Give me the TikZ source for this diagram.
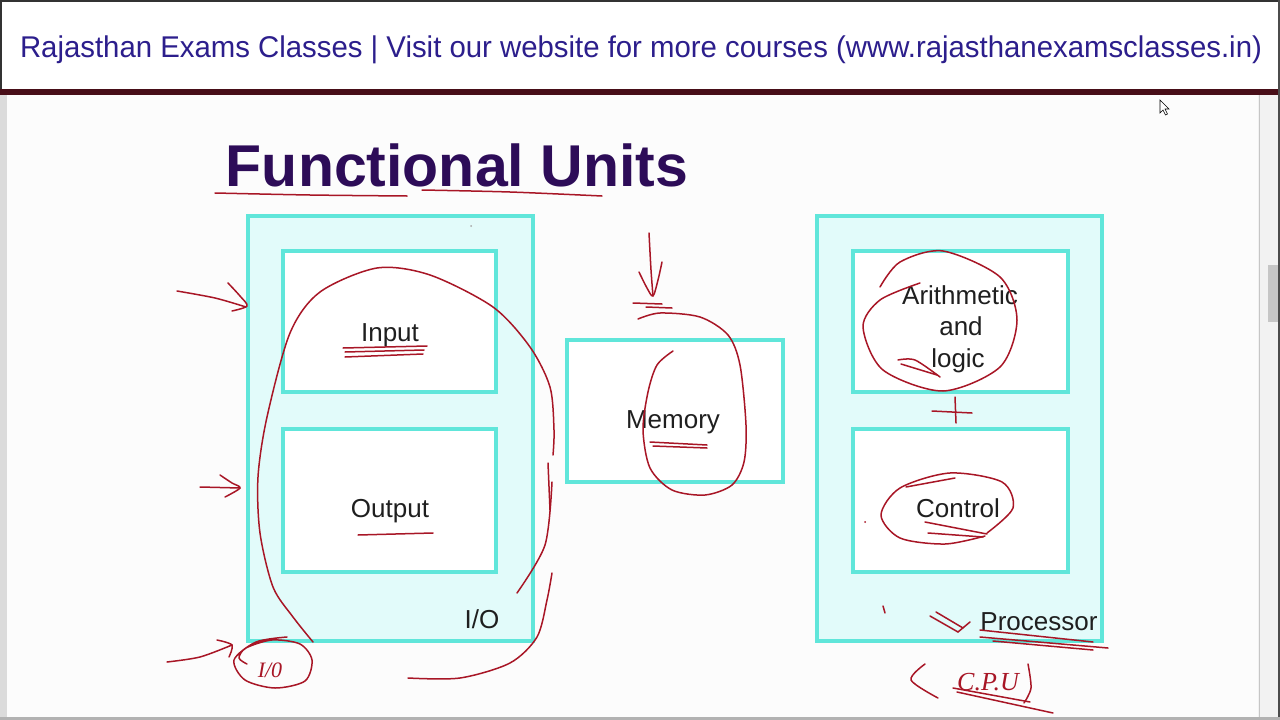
\documentclass[tikz,border=0pt]{standalone}
\usepackage{fontspec}
\setmainfont{Liberation Sans}
\newfontfamily\handfont{Liberation Serif}
\usepackage{graphicx}
\definecolor{hdrblue}{RGB}{44,30,140}
\definecolor{titlepurple}{RGB}{45,12,88}
\definecolor{turq}{RGB}{96,230,218}
\definecolor{cyanfill}{RGB}{226,251,250}
\definecolor{pen}{RGB}{168,22,38}
\definecolor{maroonband}{RGB}{72,14,24}
\tikzset{
  outerbox/.style={draw=turq, line width=4pt, fill=cyanfill, inner sep=0pt},
  innerbox/.style={draw=turq, line width=4pt, fill=white, inner sep=0pt},
  lbl/.style={font=\fontsize{26}{28}\selectfont, text=black!88, inner sep=0pt, anchor=base},
  ink/.style={draw=pen, line width=1.5pt, line cap=round, line join=round},
  handtext/.style={text=pen, inner sep=0pt, font=\handfont\itshape\fontsize{22}{22}\selectfont}
}
\begin{document}
\begin{tikzpicture}[x=1pt,y=-1pt]
\useasboundingbox (0,0) rectangle (1280,720);
% page background
\fill[white!99!black] (0,0) rectangle (1280,720);
% header
\fill[white] (0,0) rectangle (1280,90);
\draw[black!80, line width=1.5pt] (0,0.75) -- (1280,0.75);
\draw[black!80, line width=1.5pt] (0.75,0) -- (0.75,90);
\fill[maroonband] (0,89) rectangle (1280,95);
\node[anchor=base, inner sep=0pt, text=hdrblue] (header) at (641,57)
  {\resizebox{1242pt}{\height}{\fontsize{30}{32}\selectfont Rajasthan Exams Classes | Visit our website for more courses (www.rajasthanexamsclasses.in)}};
% side strips
\fill[gray!28] (0,95) rectangle (7,718);
\fill[gray!10] (1258,95) rectangle (1278,718);
\draw[gray!45, line width=1pt] (1259,95) -- (1259,718);
\fill[gray!45] (1268,265) rectangle (1278,322);
\fill[black!70] (1278,0) rectangle (1280,720);
\fill[gray!60] (0,717) rectangle (1280,720);
% cursor
\draw[black, line width=0.6pt, fill=white] (1160,100) -- (1160,113) -- (1163,110) -- (1165.5,115) -- (1167.5,114) -- (1165,109) -- (1169,109) -- cycle;

% title
\node[anchor=base, inner sep=0pt, text=titlepurple, font=\bfseries\fontsize{59}{60}\selectfont] (title) at (457,186) {Functional Units};

% boxes
\node[outerbox, minimum width=285pt, minimum height=425pt] (io) at (390.5,428.5) {};
\node[innerbox, minimum width=213pt, minimum height=141pt] (inbox) at (389.5,321.5) {};
\node[innerbox, minimum width=213pt, minimum height=143pt] (outbox) at (389.5,500.5) {};
\node[innerbox, minimum width=216pt, minimum height=142pt] (membox) at (675,411) {};
\node[outerbox, minimum width=285pt, minimum height=425pt] (proc) at (959.5,428.5) {};
\node[innerbox, minimum width=215pt, minimum height=141pt] (alubox) at (960.5,321.5) {};
\node[innerbox, minimum width=215pt, minimum height=143pt] (ctrlbox) at (960.5,500.5) {};

% labels
\node[lbl] (inlbl) at (390,341) {Input};
\node[lbl] (outlbl) at (390,517) {Output};
\node[lbl] (iolbl) at (482,628) {I/O};
\node[lbl] (memlbl) at (673,428) {Memory};
\node[lbl] (alu1) at (960,304) {Arithmetic};
\node[lbl] (alu2) at (961,335) {and};
\node[lbl] (alu3) at (958,367) {logic};
\node[lbl] (ctrllbl) at (958,517) {Control};
\node[lbl] (proclbl) at (1039,630) {Processor};

\fill[gray!70] (471,226) circle (1pt);

% ---- handwritten annotations ----
% title underlines
\draw[ink] plot[smooth] coordinates {(215,193) (310,195) (407,196)};
\draw[ink] plot[smooth] coordinates {(422,190) (510,192) (602,196)};
% arrows into I/O
\draw[ink] plot[smooth] coordinates {(177,291) (215,298) (246,307)};
\draw[ink] plot[smooth] coordinates {(228,283) (240,296) (247,306) (232,311)};
\draw[ink] (200,487) -- (240,488);
\draw[ink] plot[smooth] coordinates {(220,475) (232,483) (240,488) (225,497)};
\draw[ink] plot[smooth] coordinates {(167,662) (200,657) (232,645)};
\draw[ink] plot[smooth] coordinates {(217,640) (232,645) (229,657)};
% big loop around I/O
\draw[ink] plot[smooth] coordinates {(313,642) (293,617) (273,587) (260,533) (258,477) (267,417) (290,333) (320,292) (377,268) (430,275) (493,307) (530,347) (550,387) (554,430) (553,455)};
\draw[ink] (548,463) -- (550,510);
\draw[ink] plot[smooth] coordinates {(552,482) (545,545) (517,593)};
\draw[ink] plot[smooth] coordinates {(552,573) (547,600) (537,637) (510,663) (460,678) (408,678)};
% I/o circled
\draw[ink] plot[smooth] coordinates {(287,637) (256,642) (234,660) (245,680) (275,688) (305,681) (312,660) (300,644) (272,640) (246,648) (239,658) (247,664)};
\node[handtext] (iohand) at (270,670) {I/0};
% Input / Output underlines
\draw[ink] (343,348) -- (427,346);
\draw[ink] (345,352) -- (424,350);
\draw[ink] (345,357) -- (423,354);
\draw[ink] (358,535) -- (433,533);
% memory arrow and loop
\draw[ink] plot[smooth] coordinates {(649,233) (651,270) (653,296)};
\draw[ink] plot[smooth] coordinates {(639,272) (647,288) (653,296) (658,280) (662,262)};
\draw[ink] (633,303) -- (662,304);
\draw[ink] (646,307) -- (672,308);
\draw[ink] plot[smooth] coordinates {(638,319) (660,313) (700,317) (728,335) (740,365) (746,425) (744,462) (732,485) (705,495) (672,490) (650,468) (643,430) (648,392) (657,365) (673,351)};
\draw[ink] (650,442) -- (707,445);
\draw[ink] (653,446) -- (707,448);
% ALU circle
\draw[ink] plot[smooth] coordinates {(880,287) (900,262) (943,251) (1000,277) (1017,320) (1000,367) (943,391) (883,370) (863,327) (880,300) (920,283)};
\draw[ink] plot[smooth] coordinates {(898,360) (915,360) (940,377)};
\draw[ink] (901,364) -- (937,375);
% plus
\draw[ink] (955,397) -- (956,423);
\draw[ink] (932,411) -- (972,413);
% Control ellipse
\draw[ink] plot[smooth] coordinates {(987,533) (1013,508) (1002,482) (950,473) (900,488) (881,515) (900,538) (945,544) (985,536)};
\draw[ink] (906,487) -- (955,478);
\draw[ink] (925,522) -- (987,534);
\draw[ink] (928,533) -- (983,537);
\fill[pen] (865,522) circle (1pt);
% Processor arrow and underlines
\draw[ink] (883,606) -- (885,613);
\draw[ink] (930,616) -- (958,632);
\draw[ink] (936,612) -- (963,628);
\draw[ink] (958,632) -- (970,622);
\draw[ink] (980,630) -- (1093,642);
\draw[ink] (980,637) -- (1108,648);
\draw[ink] (993,641) -- (1093,650);
% (C.P.U)
\draw[ink] plot[smooth] coordinates {(925,664) (911,680) (938,698)};
\node[handtext, font=\handfont\itshape\fontsize{26}{26}\selectfont] (cpu) at (988,682) {C.P.U};
\draw[ink] plot[smooth] coordinates {(1028,664) (1031,688) (1024,703)};
\draw[ink] (953,688) -- (1030,702);
\draw[ink] (957,692) -- (1053,713);
\end{tikzpicture}
\end{document}
